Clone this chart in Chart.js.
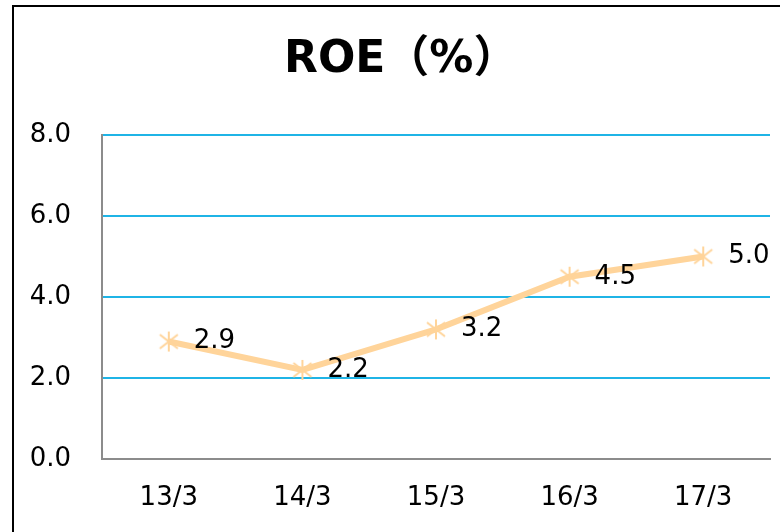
<!DOCTYPE html>
<html>
<head>
<meta charset="utf-8">
<script src="https://cdn.jsdelivr.net/npm/chart.js@4.4.0/dist/chart.umd.min.js"></script>
<style>
  html, body { margin: 0; padding: 0; background: #fff; }
  #wrap { width: 780px; height: 532px; position: relative; }
</style>
</head>
<body>
<div id="wrap"><canvas id="myChart" width="780" height="532"></canvas></div>
<script>
var xValues = ["13/3", "14/3", "15/3", "16/3", "17/3"];
var yValues = [2.9, 2.2, 3.2, 4.5, 5.0];
var yTicks = [0, 2, 4, 6, 8];
var titleText = "ROE（%）";
var lineColor = '#ffd49a';
var fontName = "'DejaVu Sans', Verdana, sans-serif";

// asterisk marker like the spreadsheet one
var marker = document.createElement('canvas');
marker.width = 22;
marker.height = 22;
var mc = marker.getContext('2d');
mc.strokeStyle = lineColor;
mc.lineWidth = 2;
mc.beginPath();
mc.moveTo(11, 1); mc.lineTo(11, 21);
mc.moveTo(2, 4); mc.lineTo(20, 18);
mc.moveTo(20, 4); mc.lineTo(2, 18);
mc.stroke();

var frame = {
  id: 'frame',
  afterDraw: function(chart) {
    var ctx = chart.ctx;
    ctx.save();
    ctx.strokeStyle = '#000';
    ctx.lineWidth = 2;
    ctx.beginPath();
    ctx.moveTo(13, 540);
    ctx.lineTo(13, 6);
    ctx.lineTo(790, 6);
    ctx.stroke();
    // title
    ctx.fillStyle = '#000';
    ctx.font = "bold 44px 'DejaVu Sans', 'Noto Sans CJK JP', sans-serif";
    ctx.textAlign = 'left';
    ctx.textBaseline = 'alphabetic';
    ctx.fillText(titleText, 284, 72);
    ctx.restore();
  }
};

var valueLabels = {
  id: 'valueLabels',
  afterDatasetsDraw: function(chart) {
    var ctx = chart.ctx;
    var meta = chart.getDatasetMeta(0);
    ctx.save();
    ctx.font = "26px " + fontName;
    ctx.fillStyle = '#000';
    ctx.textAlign = 'left';
    ctx.textBaseline = 'middle';
    meta.data.forEach(function(pt, i) {
      ctx.fillText(yValues[i].toFixed(1), pt.x + 25, pt.y);
    });
    ctx.restore();
  }
};

new Chart("myChart", {
  type: "line",
  data: {
    labels: xValues,
    datasets: [{
      data: yValues,
      borderColor: lineColor,
      borderWidth: 6,
      pointStyle: marker,
      tension: 0,
      fill: false
    }]
  },
  options: {
    responsive: false,
    animation: false,
    layout: { padding: { left: 0, right: 10, top: 135, bottom: 0 } },
    plugins: {
      legend: { display: false },
      tooltip: { enabled: false },
      title: { display: false }
    },
    scales: {
      x: {
        offset: true,
        grid: { display: false, drawTicks: false },
        border: { display: true, color: '#8c8c8c', width: 2 },
        ticks: { color: '#000', font: { family: fontName, size: 26 }, padding: 24 },
        afterFit: function(s) { s.height = 73; }
      },
      y: {
        min: 0,
        max: 8,
        afterBuildTicks: function(s) { s.ticks = yTicks.map(function(v) { return { value: v }; }); },
        grid: { color: '#1fb4e6', lineWidth: 2, drawTicks: false },
        border: { display: true, color: '#8c8c8c', width: 2 },
        ticks: {
          color: '#000',
          font: { family: fontName, size: 26 },
          padding: 31,
          callback: function(v) { return Number(v).toFixed(1); }
        },
        afterFit: function(s) { s.width = 102; }
      }
    }
  },
  plugins: [frame, valueLabels]
});
</script>
</body>
</html>
